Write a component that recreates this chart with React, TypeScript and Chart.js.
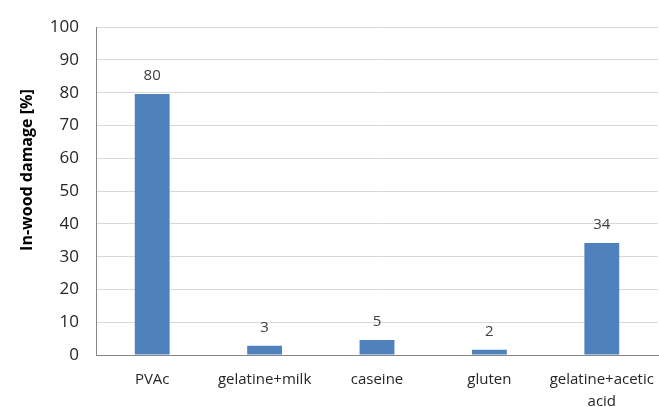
import React, { useEffect, useRef } from "react";
import { Chart, registerables } from "chart.js";

Chart.register(...registerables);

const categories: (string | string[])[] = ["PVAc", "gelatine+milk", "caseine", "gluten", ["gelatine+acetic", "acid"]];
const damageValues: number[] = [79.6, 2.8, 4.6, 1.6, 34.2];
const yTicks: number[] = [0, 10, 20, 30, 40, 50, 60, 70, 80, 90, 100];
const yTitle = "In-wood damage [%]";

const FONT = "'Open Sans', 'Liberation Sans', sans-serif";

const valueLabels = {
  id: "valueLabels",
  afterDatasetsDraw(chart: any) {
    const ctx = chart.ctx;
    const meta = chart.getDatasetMeta(0);
    ctx.save();
    ctx.font = `15px ${FONT}`;
    ctx.fillStyle = "#404040";
    ctx.textAlign = "center";
    ctx.textBaseline = "middle";
    meta.data.forEach((bar: any, i: number) => {
      const v = chart.data.datasets[0].data[i] as number;
      ctx.fillText(String(Math.round(v)), bar.x, bar.y - 18);
    });
    ctx.restore();
  },
};

const sideTitle = {
  id: "sideTitle",
  afterDraw(chart: any) {
    const ctx = chart.ctx;
    const area = chart.chartArea;
    ctx.save();
    ctx.translate(27, (area.top + area.bottom) / 2 - 21);
    ctx.rotate(-Math.PI / 2);
    ctx.font = `bold 16px ${FONT}`;
    ctx.fillStyle = "#000";
    ctx.textAlign = "center";
    ctx.textBaseline = "middle";
    ctx.fillText(yTitle, 0, 0);
    ctx.restore();
  },
};

export default function App() {
  const ref = useRef<HTMLCanvasElement>(null);
  useEffect(() => {
    document.body.style.margin = "0";
    const chart = new Chart(ref.current!, {
      type: "bar",
      data: {
        labels: categories,
        datasets: [
          {
            data: damageValues,
            backgroundColor: "#4F81BD",
            borderWidth: 0,
            barPercentage: 0.31,
            categoryPercentage: 1,
          },
        ],
      },
      options: {
        animation: false,
        responsive: false,
        maintainAspectRatio: false,
        layout: { padding: { top: 21, right: 1, left: 0, bottom: 0 } },
        plugins: { legend: { display: false }, tooltip: { enabled: false } },
        scales: {
          x: {
            grid: { display: false, drawTicks: false },
            border: { display: true, color: "#868686", width: 1 },
            ticks: { color: "#262626", font: { family: FONT, size: 15, lineHeight: 1.45 }, padding: 14, maxRotation: 0, autoSkip: false },
            afterFit: (s: any) => { s.height = 52; s.paddingLeft = 0; s.paddingRight = 0; },
          },
          y: {
            min: 0,
            max: 100,
            afterBuildTicks: (s: any) => { s.ticks = yTicks.map((v) => ({ value: v })); },
            grid: { color: "#d9d9d9", drawTicks: false },
            border: { display: true, color: "#868686", width: 1 },
            ticks: { color: "#262626", font: { family: FONT, size: 17 }, padding: 17 },
            afterFit: (s: any) => { s.width = 96; },
          },
        },
      },
      plugins: [valueLabels, sideTitle],
    });
    return () => chart.destroy();
  }, []);
  return <canvas ref={ref} width={659} height={407} style={{ display: "block" }} />;
}
